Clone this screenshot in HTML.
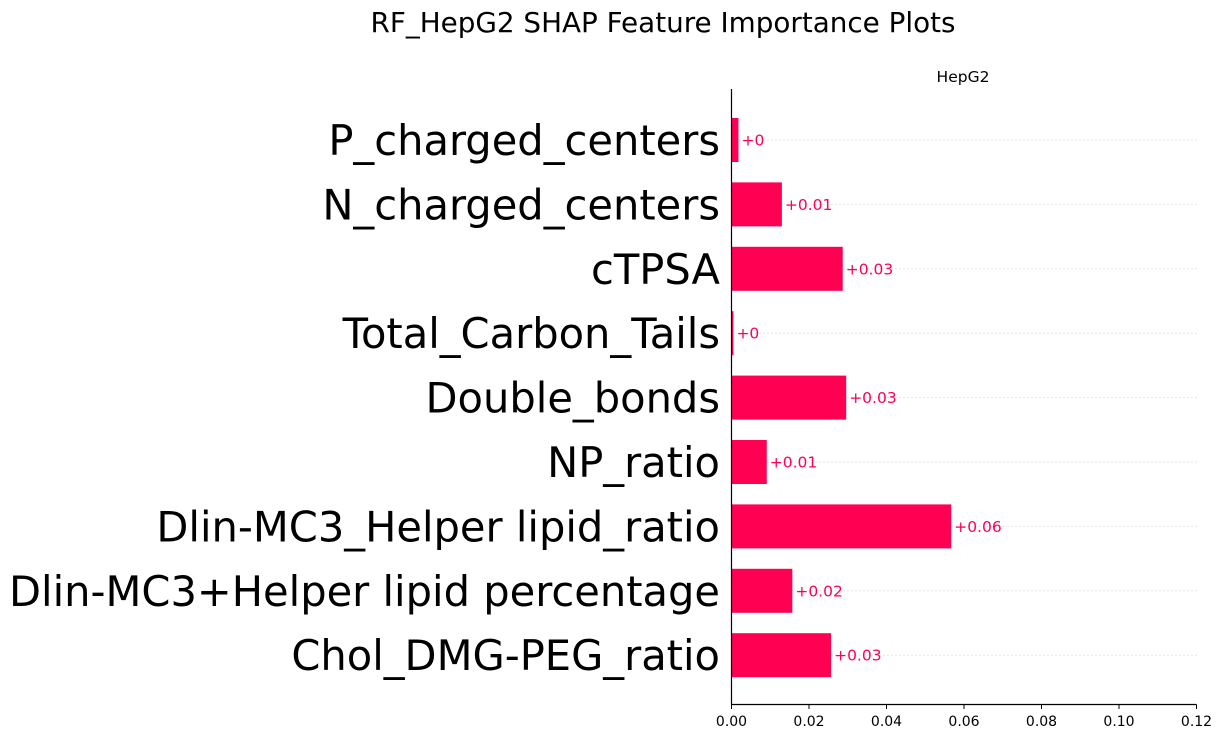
<!DOCTYPE html>
<html><head><meta charset="utf-8"><style>
body{margin:0;background:#fff;}
svg{display:block;font-family:"DejaVu Sans","Liberation Sans",sans-serif;}
</style></head><body>
<svg id="chart" width="1223" height="740" viewBox="0 0 1223 740" xmlns="http://www.w3.org/2000/svg">
<text x="663" y="32" font-size="27.8" text-anchor="middle" fill="#000">RF_HepG2 SHAP Feature Importance Plots</text>
<text x="963" y="82" font-size="15.5" text-anchor="middle" fill="#000">HepG2</text>
<g id="plot"></g>
</svg>
<script>
const features = ["P_charged_centers","N_charged_centers","cTPSA","Total_Carbon_Tails","Double_bonds","NP_ratio","Dlin-MC3_Helper lipid_ratio","Dlin-MC3+Helper lipid percentage","Chol_DMG-PEG_ratio"];
const values = [0.0018,0.013,0.0287,0.0005,0.0296,0.0091,0.0567,0.0157,0.0257];
const valueLabels = ["+0","+0.01","+0.03","+0","+0.03","+0.01","+0.06","+0.02","+0.03"];
const ticks = [0,0.02,0.04,0.06,0.08,0.10,0.12];
const tickLabels = ["0.00","0.02","0.04","0.06","0.08","0.10","0.12"];
const NS="http://www.w3.org/2000/svg";
const g=document.getElementById('plot');
const x0=731.5,x1=1196.5,xmax=0.12;
const xs=v=>x0+(x1-x0)*v/xmax;
const rowTop=140,rowStep=64.4;
const ys=i=>rowTop+i*rowStep;
function mk(t,a){const e=document.createElementNS(NS,t);for(const k in a)e.setAttribute(k,a[k]);g.appendChild(e);return e;}
features.forEach((f,i)=>{
  const y=ys(i);
  const gl=mk('line',{x1:x0,x2:x1,y1:y,y2:y,stroke:'#ccc','stroke-width':1,'stroke-dasharray':'1,3'});
  
  
  const b=mk('rect',{x:x0,y:y-22,width:xs(values[i])-x0,height:44,fill:'#ff0052'});
  
  
  const vl=mk('text',{x:xs(values[i])+3,y:y+5.5,'font-size':15.5,fill:'#ff0052'});
  vl.textContent=valueLabels[i];
  
  
  const fl=mk('text',{x:720,y:y+15,'font-size':41.6,'text-anchor':'end',fill:'#000'});
  fl.textContent=f;
  
  
});
const ya=mk('line',{x1:x0,x2:x0,y1:89,y2:704.5,stroke:'#000','stroke-width':1.2});


const xa=mk('line',{x1:x0,x2:x1,y1:704.5,y2:704.5,stroke:'#000','stroke-width':1.2});


ticks.forEach((t,i)=>{
  const tk=mk('line',{x1:xs(t),x2:xs(t),y1:704.5,y2:709,stroke:'#000','stroke-width':1});
  
  
  const tl=mk('text',{x:xs(t),y:726,'font-size':14,'text-anchor':'middle',fill:'#000'});
  tl.textContent=tickLabels[i];
  
  
});
</script>
</body></html>
